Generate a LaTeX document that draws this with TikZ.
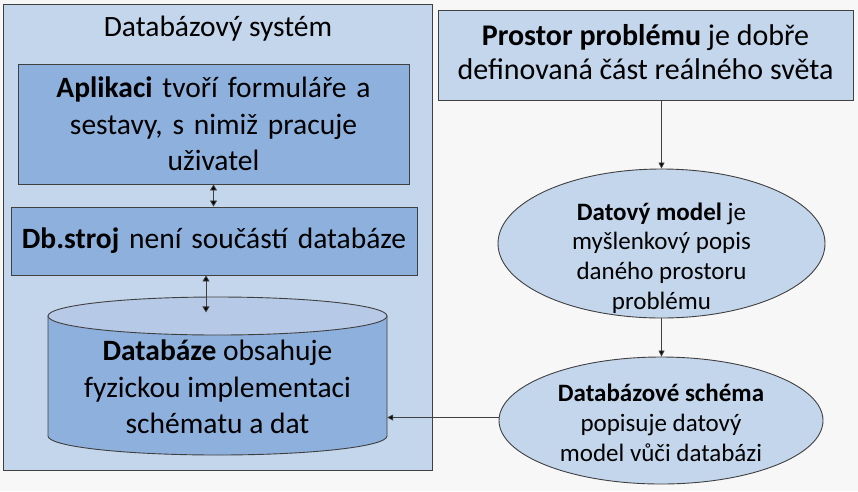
\documentclass[tikz,border=0pt]{standalone}
\usepackage{fontspec}
\setmainfont{Carlito}
\usetikzlibrary{arrows.meta,shapes.geometric,calc}
\definecolor{bgc}{HTML}{F7F7F7}
\definecolor{lightb}{HTML}{C4D6EC}
\definecolor{midb}{HTML}{8DB0DD}
\definecolor{topb}{HTML}{B6CAE8}
\definecolor{edge}{HTML}{404040}
\tikzset{
  box/.style={draw=edge, line width=0.9pt, inner sep=0pt, align=center},
  ell/.style={ellipse, draw=edge, line width=0.9pt, fill=lightb, inner sep=0pt},
  big/.style={font=\fontsize{29.5}{36.5}\selectfont},
  med/.style={font=\fontsize{30}{34}\selectfont},
  small/.style={font=\fontsize{25}{29.8}\selectfont},
  arr/.style={draw=edge, line width=0.8pt, -{Triangle[length=6pt,width=6pt,fill=black]}},
  darr/.style={draw=edge, line width=0.8pt, {Triangle[length=6pt,width=7pt,fill=black]}-{Triangle[length=6pt,width=7pt,fill=black]}},
}
\begin{document}
\begin{tikzpicture}[x=1pt,y=-1pt]
\fill[bgc] (0,0) rectangle (858,491);
\useasboundingbox (0,0) rectangle (858,491);
% outer system box
\node[box, fill=lightb, line width=1.2pt, minimum width=429pt, minimum height=466pt, anchor=north west] (sys) at (3,4) {};
\node[font=\fontsize{29.5}{34}\selectfont] (title) at (218,29) {Databázový systém};
% application
\node[box, fill=midb, big, minimum width=391pt, minimum height=120pt, text width=385pt] (app) at (213.5,124) {\textbf{Aplikaci} tvoří formuláře a\\ sestavy, s nimiž pracuje\\ uživatel};
% db engine
\node[box, fill=midb, big, minimum width=406pt, minimum height=68pt, text width=402pt] (dbs) at (214,241) {\textbf{Db.stroj} není součástí databáze};
% cylinder
\path[draw=edge, line width=0.9pt, fill=midb] (48,316) -- (48,436) arc[start angle=180, end angle=360, x radius=169.5pt, y radius=19pt] -- (387,316) -- cycle;
\path[draw=edge, line width=0.9pt, fill=topb] (217.5,316) ellipse[x radius=169.5pt, y radius=19pt];
\node[big, align=center, minimum width=339pt, inner sep=0pt] (db) at (217.5,387) {\textbf{Databáze} obsahuje\\ fyzickou implementaci\\ schématu a dat};
% right side
\node[box, fill=lightb, minimum width=415pt, minimum height=90pt] (pp) at (645.5,55) {};
\node[med, align=center] (ppt) at (645.5,52.5) {\textbf{Prostor problému} je dobře\\ definovaná část reálného světa};
\node[ell, minimum width=327pt, minimum height=149pt] (dm) at (661.5,243.5) {};
\node[small, align=center] (dmt) at (661.5,258) {\textbf{Datový model} je\\ myšlenkový popis\\ daného prostoru\\ problému};
\node[ell, minimum width=324pt, minimum height=127pt] (sch) at (661,420.5) {};
\node[small, align=center] (scht) at (661,423) {\textbf{Databázové schéma}\\ popisuje datový\\ model vůči databázi};
% connectors
\draw[darr] (app.south) -- (app.south |- dbs.north);
\draw[darr] ($(dbs.south)+(-8,0)$) -- ($(dbs.south)+(-8,37)$);
\draw[arr] (dm.north |- pp.south) -- (dm.north);
\draw[arr] (dm.south) -- (dm.south |- sch.north);
\draw[arr] ($(sch.west)+(0,-3)$) -- ($(sch.west -| db.east)+(0,-3)$);
\end{tikzpicture}
\end{document}
